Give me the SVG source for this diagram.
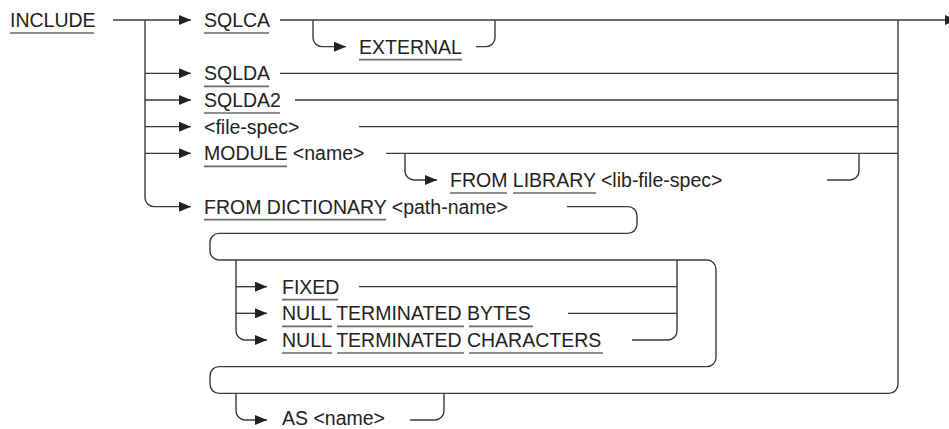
<svg xmlns="http://www.w3.org/2000/svg" width="949" height="429" viewBox="0 0 949 429">
<style>
text{font-family:"Liberation Sans",Arial,Helvetica,sans-serif;font-size:19.5px;fill:#222}
.c{fill:none;stroke:#3a3a3a;stroke-width:1.4}
.u{stroke:#6a6a6a;stroke-width:1.6}
</style>
<defs>
<marker id="ah" markerUnits="userSpaceOnUse" markerWidth="12" markerHeight="10" refX="12" refY="5" orient="auto">
<path d="M0,0 L12,5 L0,10 Z" fill="#222"/>
</marker>
</defs>
<rect width="949" height="429" fill="#fff"/>
<g id="connectors">
<path class="c" d="M113,20 H191" marker-end="url(#ah)"/>
<path class="c" d="M145,20 V197.67 A9,9 0 0 0 154,206.67 H191" marker-end="url(#ah)"/>
<path class="c" d="M145,73.33 H191" marker-end="url(#ah)"/>
<path class="c" d="M145,100 H191" marker-end="url(#ah)"/>
<path class="c" d="M145,126.67 H191" marker-end="url(#ah)"/>
<path class="c" d="M145,153.33 H191" marker-end="url(#ah)"/>
<path class="c" d="M280,20 H957" marker-end="url(#ah)"/>
<path class="c" d="M313,20 V37.67 A9,9 0 0 0 322,46.67 H346" marker-end="url(#ah)"/>
<path class="c" d="M476,46.67 H486 A9,9 0 0 0 495,37.67 V20"/>
<path class="c" d="M280,73.33 H898"/>
<path class="c" d="M295,100 H898"/>
<path class="c" d="M359,126.67 H898"/>
<path class="c" d="M386,153.33 H898"/>
<path class="c" d="M405,153.33 V171 A9,9 0 0 0 414,180 H437" marker-end="url(#ah)"/>
<path class="c" d="M827,180 H850 A9,9 0 0 0 859,171 V153.33"/>
<path class="c" d="M567,206.67 H628 A9,9 0 0 1 637,215.67 V224.33 A9,9 0 0 1 628,233.33 H219 A9,9 0 0 0 210,242.33 V251 A9,9 0 0 0 219,260 H707 A9,9 0 0 1 716,269 V357.67 A9,9 0 0 1 707,366.67 H219 A9,9 0 0 0 210,375.67 V384.33 A9,9 0 0 0 219,393.33 H889 A9,9 0 0 0 898,384.33 V20"/>
<path class="c" d="M236,260 V331 A9,9 0 0 0 245,340 H267" marker-end="url(#ah)"/>
<path class="c" d="M236,286.67 H267" marker-end="url(#ah)"/>
<path class="c" d="M236,313.33 H267" marker-end="url(#ah)"/>
<path class="c" d="M359,286.67 H677"/>
<path class="c" d="M568,313.33 H677"/>
<path class="c" d="M632,340 H668 A9,9 0 0 0 677,331 V260"/>
<path class="c" d="M236,393.33 V411 A9,9 0 0 0 245,420 H267" marker-end="url(#ah)"/>
<path class="c" d="M410,420 H435 A9,9 0 0 0 444,411 V393.33"/>
</g>
<g id="n-include"><text x="10" y="27">INCLUDE</text><line class="u" x1="10" y1="33" x2="94" y2="33"/></g>
<g id="n-sqlca"><text x="204" y="27">SQLCA</text><line class="u" x1="204" y1="33" x2="269" y2="33"/></g>
<g id="n-external"><text x="359" y="53.67">EXTERNAL</text><line class="u" x1="359" y1="59.67" x2="462" y2="59.67"/></g>
<g id="n-sqlda"><text x="204" y="80.33">SQLDA</text><line class="u" x1="204" y1="86.33" x2="269" y2="86.33"/></g>
<g id="n-sqlda2"><text x="204" y="107">SQLDA2</text><line class="u" x1="204" y1="113" x2="280" y2="113"/></g>
<g id="n-filespec"><text x="204" y="133.67">&lt;file-spec&gt;</text></g>
<g id="n-module"><text x="204" y="160.33">MODULE &lt;name&gt;</text><line class="u" x1="204" y1="166.33" x2="287" y2="166.33"/></g>
<g id="n-library"><text x="450" y="187">FROM LIBRARY &lt;lib-file-spec&gt;</text><line class="u" x1="450" y1="193" x2="507" y2="193"/><line class="u" x1="513" y1="193" x2="596" y2="193"/></g>
<g id="n-dictionary"><text x="204" y="213.67">FROM DICTIONARY &lt;path-name&gt;</text><line class="u" x1="204" y1="219.67" x2="386" y2="219.67"/></g>
<g id="n-fixed"><text x="282" y="293.67">FIXED</text><line class="u" x1="282" y1="299.67" x2="338" y2="299.67"/></g>
<g id="n-bytes"><text x="282" y="320.33">NULL TERMINATED BYTES</text><line class="u" x1="282" y1="326.33" x2="332" y2="326.33"/><line class="u" x1="337" y1="326.33" x2="464" y2="326.33"/><line class="u" x1="469" y1="326.33" x2="533" y2="326.33"/></g>
<g id="n-characters"><text x="282" y="347">NULL TERMINATED CHARACTERS</text><line class="u" x1="282" y1="353" x2="332" y2="353"/><line class="u" x1="337" y1="353" x2="464" y2="353"/><line class="u" x1="469" y1="353" x2="603" y2="353"/></g>
<g id="n-as"><text x="282" y="425">AS &lt;name&gt;</text></g>
</svg>
